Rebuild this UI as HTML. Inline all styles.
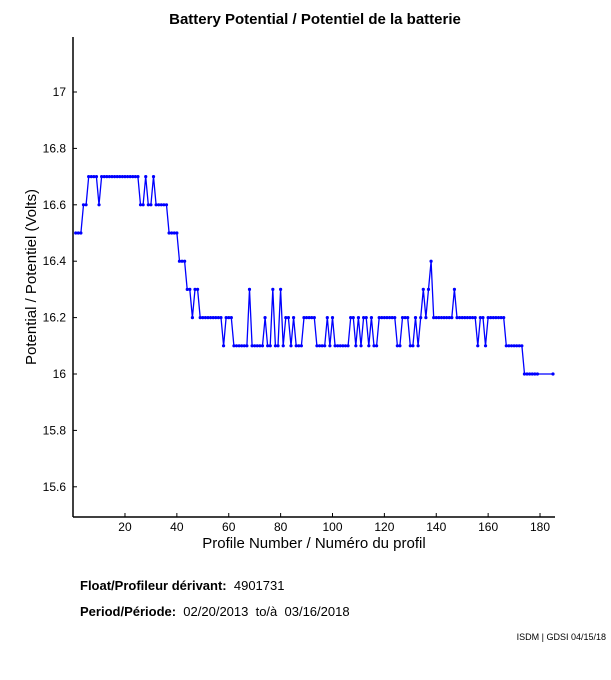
<!DOCTYPE html>
<html><head><meta charset="utf-8"><style>
body{margin:0;background:#fff;width:611px;height:675px;overflow:hidden;font-family:"Liberation Sans",sans-serif}
</style></head><body>
<svg width="611" height="675" xmlns="http://www.w3.org/2000/svg" font-family="Liberation Sans, sans-serif">
<text x="315" y="24" font-size="15" font-weight="bold" text-anchor="middle">Battery Potential / Potentiel de la batterie</text>
<line x1="73" y1="37" x2="73" y2="517" stroke="#000" stroke-width="1.5"/>
<line x1="73" y1="517" x2="555" y2="517" stroke="#000" stroke-width="1.5"/>
<g id="yt" font-size="12" text-anchor="end"></g>
<g id="xt" font-size="12" text-anchor="middle"></g>
<text x="314" y="548" font-size="15" text-anchor="middle">Profile Number / Numéro du profil</text>
<text transform="translate(36,277) rotate(-90)" font-size="15" text-anchor="middle">Potential / Potentiel (Volts)</text>
<polyline id="ln" fill="none" stroke="#0000ff" stroke-width="1.3"/>
<g id="mk" fill="#0000ff"></g>
<text x="80" y="590" font-size="13" xml:space="preserve"><tspan font-weight="bold">Float/Profileur dérivant:</tspan>  4901731</text>
<text x="80" y="616" font-size="13" xml:space="preserve"><tspan font-weight="bold">Period/Période:</tspan>  02/20/2013  to/à  03/16/2018</text>
<text x="606" y="640" font-size="9" text-anchor="end">ISDM | GDSI 04/15/18</text>
</svg>
<script>
var ns="http://www.w3.org/2000/svg";
function X(p){return 73.1+2.594*p}
function Y(v){return 374-(v-16)*282}
var yt=document.getElementById('yt');
[15.6,15.8,16,16.2,16.4,16.6,16.8,17].forEach(function(v){
 var t=document.createElementNS(ns,'text');t.setAttribute('x',66);t.setAttribute('y',Y(v)+4);t.textContent=(v==16||v==17)?String(v):v.toFixed(1);yt.appendChild(t);
 var l=document.createElementNS(ns,'line');l.setAttribute('x1',73);l.setAttribute('x2',77);l.setAttribute('y1',Y(v));l.setAttribute('y2',Y(v));l.setAttribute('stroke','#000');yt.appendChild(l);});
var xt=document.getElementById('xt');
[20,40,60,80,100,120,140,160,180].forEach(function(p){
 var t=document.createElementNS(ns,'text');t.setAttribute('x',X(p));t.setAttribute('y',531);t.textContent=p;xt.appendChild(t);
 var l=document.createElementNS(ns,'line');l.setAttribute('x1',X(p));l.setAttribute('x2',X(p));l.setAttribute('y1',517);l.setAttribute('y2',513);l.setAttribute('stroke','#000');xt.appendChild(l);});
var segs=[[1,3,16.5],[4,5,16.6],[6,9,16.7],[10,10,16.6],[11,25,16.7],[26,27,16.6],[28,28,16.7],[29,30,16.6],[31,31,16.7],[32,36,16.6],[37,40,16.5],[41,43,16.4],[44,45,16.3],[46,46,16.2],[47,48,16.3],[49,57,16.2],[58,58,16.1],[59,61,16.2],[62,67,16.1],[68,68,16.3],[69,73,16.1],[74,74,16.2],[75,76,16.1],[77,77,16.3],[78,79,16.1],[80,80,16.3],[81,81,16.1],[82,83,16.2],[84,84,16.1],[85,85,16.2],[86,88,16.1],[89,93,16.2],[94,97,16.1],[98,98,16.2],[99,99,16.1],[100,100,16.2],[101,106,16.1],[107,108,16.2],[109,109,16.1],[110,110,16.2],[111,111,16.1],[112,113,16.2],[114,114,16.1],[115,115,16.2],[116,117,16.1],[118,124,16.2],[125,126,16.1],[127,129,16.2],[130,131,16.1],[132,132,16.2],[133,133,16.1],[134,134,16.2],[135,135,16.3],[136,136,16.2],[137,137,16.3],[138,138,16.4],[139,146,16.2],[147,147,16.3],[148,155,16.2],[156,156,16.1],[157,158,16.2],[159,159,16.1],[160,166,16.2],[167,173,16.1],[174,179,16.0],[185,185,16.0]];
var pts=[],mk=document.getElementById('mk');
segs.forEach(function(s){for(var p=s[0];p<=s[1];p++){var x=X(p),y=Y(s[2]);pts.push(x.toFixed(1)+','+y.toFixed(1));
 var c=document.createElementNS(ns,'circle');c.setAttribute('cx',x);c.setAttribute('cy',y);c.setAttribute('r',1.6);mk.appendChild(c);}});
document.getElementById('ln').setAttribute('points',pts.join(' '));
</script>
</body></html>
